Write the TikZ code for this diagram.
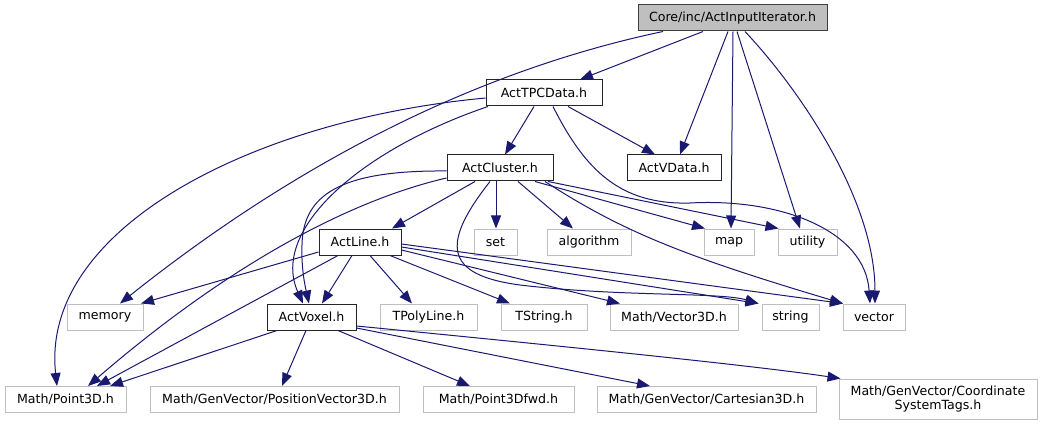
\documentclass[tikz,border=0pt]{standalone}
\usepackage{fontspec}
\setmainfont{DejaVu Sans}
\usetikzlibrary{arrows.meta}
\definecolor{edgeBlue}{HTML}{191970}
\definecolor{extGray}{HTML}{BFBFBF}

\begin{document}
\begin{tikzpicture}[x=1pt, y=-1pt,
  box/.style={rectangle, inner sep=0pt, minimum height=26pt, font=\fontsize{12.6}{14}\selectfont},
  hdr/.style={box, draw=black!85, line width=1pt, fill=white},
  ext/.style={box, draw=extGray, line width=1pt, fill=white},
  rootnode/.style={box, draw=black!75, line width=1pt, fill=extGray},
  dep/.style={draw=edgeBlue, line width=1pt, -{Triangle[length=13pt, width=10pt]}}]
\useasboundingbox (0,0) rectangle (1053,425);
% rows of headers
\node[rootnode, minimum width=189pt] (root) at (732.5,18) {Core/inc/ActInputIterator.h};
\node[hdr, minimum width=116pt] (tpc) at (544,93) {ActTPCData.h};
\node[hdr, minimum width=106pt] (cluster) at (500,168) {ActCluster.h};
\node[hdr, minimum width=94pt] (vdata) at (674,168) {ActVData.h};
\node[hdr, minimum width=82pt] (line) at (360,242) {ActLine.h};
\foreach \n/\x/\w/\t in {set/495.5/43/set, algorithm/589/84/algorithm, map/729/50/map, utility/807.5/59/utility}
  \node[ext, minimum width=\w pt] (\n) at (\x,242) {\t};
\node[hdr, minimum width=89pt] (voxel) at (311.5,317) {ActVoxel.h};
\foreach \n/\x/\w/\t in {memory/105/76/memory, tpoly/428.5/97/TPolyLine.h, tstring/544/86/TString.h, vecthree/674/128/{Math/Vector3D.h}, string/790.5/57/string, vector/874/62/vector}
  \node[ext, minimum width=\w pt] (\n) at (\x,317) {\t};
\foreach \n/\x/\w/\t in {pointthree/65.5/121/{Math/Point3D.h}, posvec/274.5/249/{Math/GenVector/PositionVector3D.h}, pointfwd/498.5/151/{Math/Point3Dfwd.h}, cart/706.5/219/{Math/GenVector/Cartesian3D.h}}
  \node[ext, minimum width=\w pt] (\n) at (\x,399.5) {\t};
\node[ext, minimum width=198pt, minimum height=40pt, align=center] (cst) at (938,399) {Math/GenVector/Coordinate\\SystemTags.h};
% straight dependencies: source/anchor/xshift/yshift/target/xshift
\foreach \a/\sa/\ax/\ay/\b/\bx in {root/south/-29.5/0/tpc/36, root/south/-4.5/0/vdata/6, root/south/0.5/0/map/2, root/south/4.5/0/utility/-7.5,
  tpc/south/-10/0/cluster/5, tpc/south/24/0/vdata/-19,
  cluster/south/-25/0/line/32, cluster/south/-4/0/set/0.5, cluster/south/18/0/algorithm/-16, cluster/south/35/0/map/-24, cluster/south/48/0/utility/-29,
  line/west/0/-10/memory/36, line/south/-22/0/pointthree/31.5, line/south/-8/0/voxel/10.5, line/south/10/0/tpoly/-16.5, line/south/30/0/tstring/-34, line/east/0/-8/vecthree/-54, line/east/0/-5/string/-32, line/east/0/-2/vector/-31,
  voxel/south/-34.5/0/pointthree/44.5, voxel/south/-5.5/0/posvec/7.5, voxel/south/26.5/0/pointfwd/-28.5, voxel/east/0/-11/cart/-56.5}
  \draw[dep] ([xshift=\ax pt, yshift=\ay pt]\a.\sa) -- ([xshift=\bx pt]\b.north);
% curved dependencies
\draw[dep] ([xshift=-69.5pt]root.south) .. controls (480,70) and (300,160) .. ([xshift=15pt]memory.north);
\draw[dep] ([xshift=12.5pt]root.south) .. controls (800,90) and (875,200) .. ([xshift=1pt]vector.north);
\draw[dep] ([yshift=-5pt]tpc.west) .. controls (250,120) and (40,230) .. ([xshift=-8.5pt]pointthree.north);
\draw[dep] ([xshift=-56pt]tpc.south) .. controls (360,150) and (270,230) .. ([xshift=-8.5pt]voxel.north);
\draw[dep] ([xshift=9pt]tpc.south) .. controls (585,170) and (620,205) .. (690,203) .. controls (780,198) and (865,230) .. ([xshift=-4pt]vector.north);
\draw[dep] ([yshift=-3pt]cluster.west) .. controls (340,170) and (303,195) .. (302,245) .. controls (301,270) and (306,290) .. ([xshift=-2.5pt]voxel.north);
\draw[dep] ([yshift=-10pt]cluster.west) .. controls (360,198) and (240,255) .. ([xshift=22.5pt]pointthree.north);
\draw[dep] ([xshift=-10pt]cluster.south) .. controls (440,245) and (445,275) .. (520,285) .. controls (620,297) and (720,292) .. ([xshift=-32pt]string.north);
\draw[dep] ([xshift=45pt]cluster.south) .. controls (620,230) and (680,255) .. ([xshift=-31pt]vector.north);
\draw[dep] ([yshift=-9pt]voxel.east) .. controls (550,345) and (750,365) .. ([xshift=2pt]cst.north west);
\end{tikzpicture}
\end{document}
